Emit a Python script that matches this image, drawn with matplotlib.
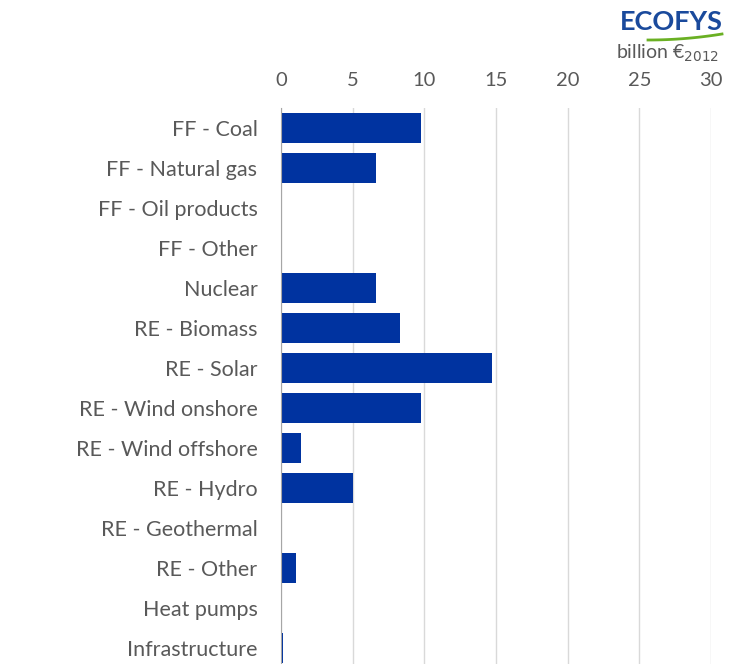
import matplotlib
matplotlib.use("Agg")
import matplotlib.pyplot as plt
import numpy as np

categories = ["FF - Coal", "FF - Natural gas", "FF - Oil products", "FF - Other",
              "Nuclear", "RE - Biomass", "RE - Solar", "RE - Wind onshore",
              "RE - Wind offshore", "RE - Hydro", "RE - Geothermal", "RE - Other",
              "Heat pumps", "Infrastructure"]
values = [9.8, 6.6, 0.0, 0.0, 6.6, 8.3, 14.7, 9.8, 1.4, 5.0, 0.0, 1.05, 0.0, 0.15]
ticks = [0, 5, 10, 15, 20, 25, 30]

plt.rcParams['font.family'] = ['Lato', 'DejaVu Sans']
W, H = 736, 664
fig = plt.figure(figsize=(W/100, H/100), dpi=100)
ax = fig.add_axes([281/W, 1 - 668/H, 430/W, 560/H])

y = np.arange(len(categories))
ax.barh(y, values, height=0.75, color="#0033A0", zorder=3)
ax.set_ylim(len(categories) - 0.5, -0.5)
ax.set_xlim(0, 30)
ax.set_xticks(ticks)
ax.set_xticklabels([str(t) for t in ticks])
ax.xaxis.tick_top()
ax.tick_params(axis='x', length=0, pad=14, labelsize=14.5, colors="#595959")
ax.set_yticks(y)
ax.set_yticklabels(categories)
ax.tick_params(axis='y', length=0, pad=17, labelsize=15.5, colors="#595959")
ax.grid(axis='x', color="#d9d9d9", linewidth=1, zorder=0)
for s in ['top', 'right', 'bottom']:
    ax.spines[s].set_visible(False)
ax.spines['left'].set_color("#a6a6a6")
ax.spines['left'].set_zorder(4)

fig.text(723/W, 1 - 22/H, "ECOFYS", ha='right', va='center', fontsize=19.5,
         fontweight='bold', color="#1a4a9c")
# green swoosh
t = np.linspace(0, 1, 50)
xs = 648 + 74 * t
ys = 40 - 6 * t**2
fig.add_artist(plt.Line2D(xs / W, 1 - ys / H, color="#6ab023", linewidth=2,
                          transform=fig.transFigure))
fig.text(719/W, 1 - 53/H, r"billion €$_{2012}$", ha='right', va='center',
         fontsize=14, color="#595959")

fig.savefig("out.png", dpi=100)
